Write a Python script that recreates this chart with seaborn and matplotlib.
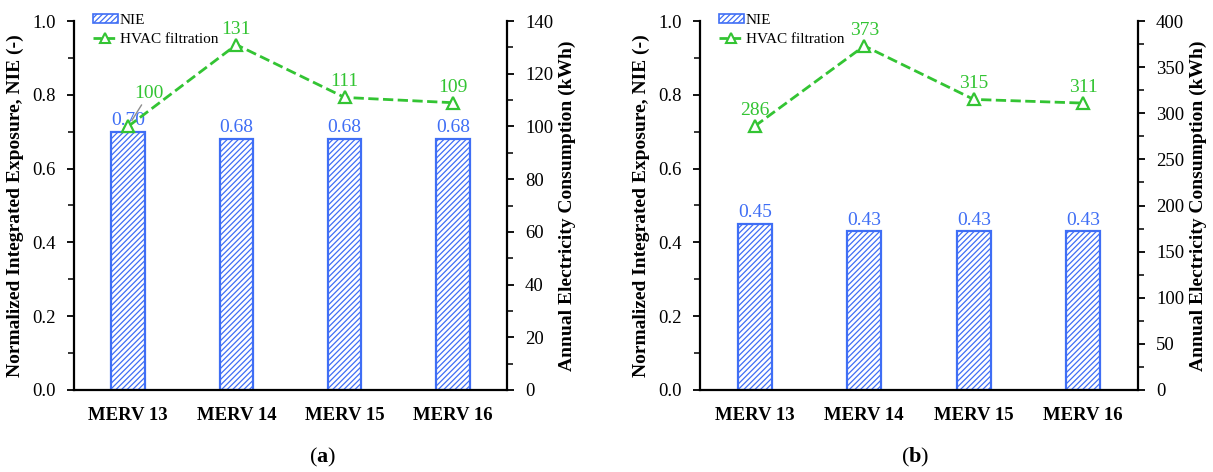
import numpy as np
import pandas as pd
import matplotlib
matplotlib.use("Agg")
import matplotlib.pyplot as plt
from matplotlib.patches import Patch
from matplotlib.lines import Line2D
from matplotlib.ticker import MultipleLocator
import seaborn as sns

# ---- data ----
filters = ["MERV 13", "MERV 14", "MERV 15", "MERV 16"]
nie_a = [0.70, 0.68, 0.68, 0.68]
energy_a = [100, 131, 111, 109]
nie_b = [0.45, 0.43, 0.43, 0.43]
energy_b = [286, 373, 315, 311]
panel_tags = ["a", "b"]

BLUE = "#3F6EF5"
GREEN = "#33C433"

sns.set_theme(style="white")
plt.rcParams["font.family"] = ["Liberation Serif", "DejaVu Serif"]
plt.rcParams["mathtext.fontset"] = "custom"
plt.rcParams["mathtext.rm"] = "Liberation Serif"
plt.rcParams["mathtext.bf"] = "Liberation Serif:bold"
plt.rcParams["hatch.linewidth"] = 0.9
plt.rcParams["text.color"] = "black"
plt.rcParams["axes.labelcolor"] = "black"
plt.rcParams["xtick.color"] = "black"
plt.rcParams["ytick.color"] = "black"

TICK_FS = 13.5
LABEL_FS = 14
VALUE_FS = 14

fig = plt.figure(figsize=(12.13, 4.72), dpi=100)

panels = [
    dict(nie=nie_a, energy=energy_a, rmax=140, rmajor=20, rminor=10,
         rect=[74 / 1213, 1 - 390 / 472, 433 / 1213, 369 / 472], tag=panel_tags[0],
         cap_x=323 / 1213),
    dict(nie=nie_b, energy=energy_b, rmax=400, rmajor=50, rminor=25,
         rect=[700 / 1213, 1 - 390 / 472, 438 / 1213, 369 / 472], tag=panel_tags[1],
         cap_x=915 / 1213),
]

for p in panels:
    ax = fig.add_axes(p["rect"])
    df = pd.DataFrame({"filter": filters, "NIE": p["nie"]})
    sns.barplot(data=df, x="filter", y="NIE", ax=ax, width=0.31,
                color="white", edgecolor=BLUE, linewidth=1.6, hatch="//////",
                saturation=1)
    for bar in ax.patches:
        bar.set_facecolor("white")
        bar.set_edgecolor(BLUE)

    ax.set_xlim(-0.5, 3.5)
    ax.set_ylim(0, 1.0)
    ax.yaxis.set_minor_locator(MultipleLocator(0.1))
    yt = np.arange(0, 1.01, 0.2)
    ax.set_yticks(yt)
    ax.set_yticklabels([f"{v:.1f}" for v in yt], fontsize=TICK_FS)
    ax.set_xticks(range(len(filters)))
    ax.set_xticklabels(filters, fontsize=13.5, fontweight="bold")
    ax.tick_params(axis="x", length=0, pad=12)
    ax.tick_params(axis="y", which="major", direction="out", length=5, width=1.3,
                   left=True, pad=8)
    ax.tick_params(axis="y", which="minor", direction="out", length=4, width=1.1,
                   left=True)
    ax.set_xlabel("")
    ax.set_ylabel("Normalized Integrated Exposure, NIE (-)", fontsize=LABEL_FS,
                  fontweight="bold", labelpad=6)
    for s in ["top", "right"]:
        ax.spines[s].set_visible(False)
    for s in ["left", "bottom"]:
        ax.spines[s].set_color("black")
        ax.spines[s].set_linewidth(1.6)

    for i, v in enumerate(p["nie"]):
        ax.annotate(f"{v:.2f}", (i, v), xytext=(0, 2), textcoords="offset points",
                    ha="center", va="bottom", color=BLUE, fontsize=VALUE_FS)

    ax2 = ax.twinx()
    sns.lineplot(x=np.arange(len(filters)), y=p["energy"], ax=ax2, color=GREEN,
                 linestyle="--", linewidth=2.0, marker="^", markersize=8,
                 markerfacecolor="white", markeredgecolor=GREEN,
                 markeredgewidth=1.6, dashes=(3, 1.8))
    ax2.set_ylim(0, p["rmax"])
    ax2.yaxis.set_major_locator(MultipleLocator(p["rmajor"]))
    ax2.yaxis.set_minor_locator(MultipleLocator(p["rminor"]))
    ax2.tick_params(axis="y", which="major", direction="out", length=5, width=1.3,
                    right=True, labelsize=TICK_FS, pad=8)
    ax2.tick_params(axis="y", which="minor", direction="out", length=4, width=1.1,
                    right=True)
    ax2.set_ylabel("Annual Electricity Consumption (kWh)", fontsize=LABEL_FS,
                   fontweight="bold", labelpad=4)
    for s in ["top", "left", "bottom"]:
        ax2.spines[s].set_visible(False)
    ax2.spines["right"].set_color("black")
    ax2.spines["right"].set_linewidth(1.6)
    ax2.grid(False)
    ax.grid(False)

    for i, v in enumerate(p["energy"]):
        if p["tag"] == "a" and i == 0:
            # offset label with a thin leader line back to its marker
            ax2.annotate(f"{v}", (i, v), xytext=(15, 24), textcoords="offset points",
                         ha="center", va="center", color=GREEN, fontsize=VALUE_FS,
                         arrowprops=dict(arrowstyle="-", color="#8C8C8C", lw=1.0,
                                         shrinkA=0, shrinkB=5, zorder=5))
        else:
            ax2.annotate(f"{v}", (i, v), xytext=(0, 5), textcoords="offset points",
                         ha="center", va="bottom", color=GREEN, fontsize=VALUE_FS)

    handles = [
        Patch(facecolor="white", edgecolor=BLUE, hatch="//////", linewidth=1.2,
              label="NIE"),
        Line2D([0], [0], color=GREEN, linestyle="--", linewidth=2.0, dashes=(3, 1.8),
               marker="^", markersize=7, markerfacecolor="white",
               markeredgecolor=GREEN, markeredgewidth=1.5, label="HVAC filtration"),
    ]
    ax2.legend(handles=handles, loc="upper left", bbox_to_anchor=(0.03, 1.035),
               frameon=False, fontsize=11, handlelength=1.6, handleheight=0.55,
               handletextpad=0.15, labelspacing=0.35, borderaxespad=0.0)

    fig.text(p["cap_x"], 0.03, rf"($\mathbf{{{p['tag']}}}$)", ha="center",
             va="center", fontsize=16)

fig.savefig("out.png", dpi=100)
